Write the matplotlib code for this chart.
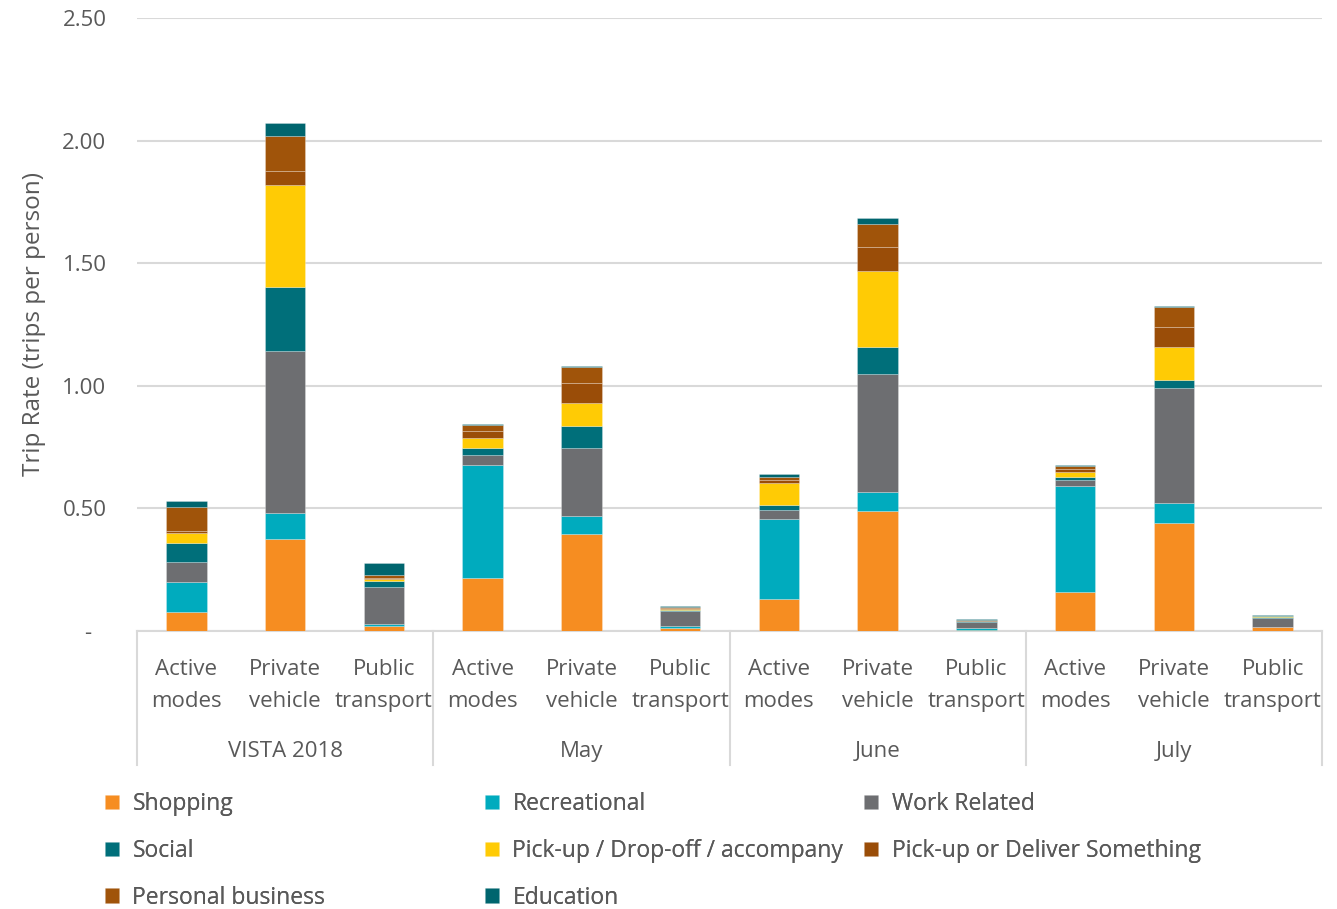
import matplotlib.pyplot as plt
import numpy as np
from matplotlib.lines import Line2D

plt.rcParams['font.family'] = ['Open Sans', 'DejaVu Sans']

groups = ["VISTA 2018", "May", "June", "July"]
modes = ["Active\nmodes", "Private\nvehicle", "Public\ntransport"]

purposes = ["Shopping", "Recreational", "Work Related", "Social",
            "Pick-up / Drop-off / accompany", "Pick-up or Deliver Something",
            "Personal business", "Education"]
colors = ["#F68D21", "#00ABBE", "#6D6E71", "#006F7A",
          "#FFCB05", "#9A4D08", "#A0540A", "#00656E"]

# trip rate by purpose, one value per bar (VISTA x3, May x3, June x3, July x3)
shopping      = [0.078, 0.374, 0.020, 0.215, 0.396, 0.014, 0.130, 0.489, 0.005, 0.158, 0.442, 0.015]
recreational  = [0.121, 0.106, 0.009, 0.462, 0.074, 0.006, 0.328, 0.079, 0.007, 0.434, 0.082, 0.003]
work_related  = [0.084, 0.662, 0.150, 0.041, 0.278, 0.060, 0.034, 0.482, 0.023, 0.025, 0.465, 0.036]
social        = [0.077, 0.262, 0.025, 0.030, 0.089, 0.006, 0.020, 0.108, 0.004, 0.012, 0.033, 0.003]
pickup_drop   = [0.040, 0.415, 0.009, 0.041, 0.094, 0.003, 0.090, 0.311, 0.002, 0.020, 0.136, 0.003]
pickup_deliv  = [0.009, 0.056, 0.005, 0.027, 0.081, 0.004, 0.015, 0.098, 0.002, 0.011, 0.080, 0.001]
personal_bus  = [0.098, 0.145, 0.010, 0.023, 0.064, 0.005, 0.013, 0.092, 0.003, 0.011, 0.084, 0.001]
education     = [0.025, 0.053, 0.050, 0.004, 0.004, 0.003, 0.011, 0.024, 0.003, 0.006, 0.004, 0.003]

series = [shopping, recreational, work_related, social,
          pickup_drop, pickup_deliv, personal_bus, education]

text_col = "#595959"
grid_col = "#D9D9D9"

fig = plt.figure(figsize=(13.37, 9.09), dpi=100)
ax = fig.add_axes([137 / 1337, 1 - 631 / 909, 1185 / 1337, 613 / 909])

x = np.arange(len(groups) * len(modes))
bottom = np.zeros(len(x))
bars = []
for name, vals, c in zip(purposes, series, colors):
    b = ax.bar(x, vals, 0.41, bottom=bottom, color=c, label=name,
               edgecolor=(1, 1, 1, 0.35), linewidth=0.5, zorder=3)
    bars.append(b)
    bottom += np.array(vals)

ax.set_xlim(-0.5, len(x) - 0.5)
ax.set_ylim(0, 2.5)
ax.set_yticks(np.arange(0, 2.51, 0.5))
ax.set_yticklabels(["-"] + ["%.2f" % v for v in np.arange(0.5, 2.51, 0.5)])
ax.yaxis.grid(True, color=grid_col, linewidth=1.5, zorder=0)
ax.tick_params(axis='y', length=0, pad=22, labelsize=16, labelcolor=text_col)
for lbl in ax.get_yticklabels():
    lbl.set_horizontalalignment('right')
# the zero dash sits a little left of the number column
ax.yaxis.get_major_ticks()[0].set_pad(33)

ax.set_xticks(x)
ax.set_xticklabels(modes * len(groups), linespacing=1.7)
ax.tick_params(axis='x', length=0, pad=20, labelsize=16, labelcolor=text_col)

for s in ["top", "right", "left"]:
    ax.spines[s].set_visible(False)
ax.spines["bottom"].set_color(grid_col)
ax.spines["bottom"].set_linewidth(1.5)

# group separators and group names under the mode labels
trans = ax.get_xaxis_transform()
for i in range(len(groups) + 1):
    xs = i * len(modes) - 0.5
    ax.add_line(Line2D([xs, xs], [0, -0.219], transform=trans, color=grid_col,
                       linewidth=1.5, clip_on=False))
for i, g in enumerate(groups):
    ax.text(i * len(modes) + 1, -0.196, g, transform=trans, ha='center',
            va='center', fontsize=16, color=text_col)

ax.set_ylabel("Trip Rate (trips per person)", fontsize=17.5, color=text_col)
ax.yaxis.set_label_coords(-0.077, 0.5)

# legend laid out as three columns
cols = [[0, 3, 6], [1, 4, 7], [2, 5]]
col_x = [105 / 1337, 485 / 1337, 864 / 1337]
for cx, idx in zip(col_x, cols):
    leg = fig.legend([bars[i] for i in idx], [purposes[i] for i in idx],
                     loc='upper left', bbox_to_anchor=(cx, 1 - 792 / 909),
                     frameon=False, fontsize=16.5, labelcolor=text_col,
                     handlelength=0.6, handleheight=0.6, handletextpad=0.6,
                     labelspacing=1.0, borderaxespad=0, borderpad=0)
    fig.add_artist(leg)

fig.savefig("out.png", dpi=100)
